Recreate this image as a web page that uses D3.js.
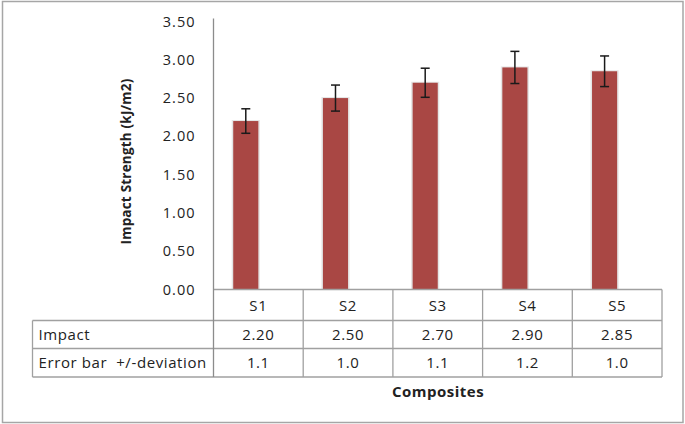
<!DOCTYPE html>
<html>
<head>
<meta charset="utf-8">
<script src="https://cdn.jsdelivr.net/npm/d3@7"></script>
<style>
  body { margin: 0; background: #fff; }
  text { font-family: "Open Sans", sans-serif; fill: #222; }
</style>
</head>
<body>
<script>
// chart data
var samples = ["S1", "S2", "S3", "S4", "S5"];
var impact = [2.20, 2.50, 2.70, 2.90, 2.85];
var deviation = ["1.1", "1.0", "1.1", "1.2", "1.0"];   // as printed in the table
var errDrawn = [0.16, 0.17, 0.19, 0.21, 0.20];          // half length of the drawn error bars
var yTicks = [0, 0.5, 1, 1.5, 2, 2.5, 3, 3.5];

var W = 685, H = 424;
var plotLeft = 213.5, plotRight = 662, plotTop = 21.5, plotBottom = 289.5;
var rowH = [31, 28, 28.5];

var svg = d3.select("body").append("svg")
    .attr("width", W)
    .attr("height", H);

// outer chart border
svg.append("rect")
    .attr("x", 2.5).attr("y", 1.5)
    .attr("width", 680.5).attr("height", 421)
    .attr("fill", "#fff")
    .attr("stroke", "#a6a6a6")
    .attr("stroke-width", 1.5);

var x = d3.scaleBand().domain(samples).range([plotLeft, plotRight]).padding(0);
var y = d3.scaleLinear().domain([0, 3.5]).range([plotBottom, plotTop]);

var barW = x.bandwidth() * 0.28;

// y axis tick labels
var yAxis = d3.axisLeft(y)
    .tickValues(yTicks)
    .tickSize(0)
    .tickPadding(18)
    .tickFormat(d3.format(".2f"));

var gy = svg.append("g")
    .attr("transform", "translate(" + plotLeft + ",0)")
    .call(yAxis);
gy.select(".domain").remove();
gy.selectAll("text")
    .style("font-family", "'Open Sans', sans-serif")
    .style("font-size", "14.5px")
    .style("letter-spacing", "1px")
    .attr("fill", "#333");

// y axis title
svg.append("text")
    .attr("transform", "translate(131,161.5) rotate(-90)")
    .attr("text-anchor", "middle")
    .style("font-size", "13.5px")
    .style("letter-spacing", "0.2px")
    .style("font-weight", "bold")
    .text("Impact Strength (kJ/m2)");

// bars, with a pale halo like the original
var bars = svg.append("g");
bars.selectAll("rect.halo")
    .data(impact)
    .enter().append("rect")
    .attr("class", "halo")
    .attr("x", function(d, i) { return x(samples[i]) + x.bandwidth() / 2 - barW - 1.5; })
    .attr("y", function(d) { return y(d) - 1; })
    .attr("width", barW + 3)
    .attr("height", function(d) { return plotBottom - y(d) + 1; })
    .attr("fill", "#e4e4e4");
bars.selectAll("rect.bar")
    .data(impact)
    .enter().append("rect")
    .attr("class", "bar")
    .attr("x", function(d, i) { return x(samples[i]) + x.bandwidth() / 2 - barW; })
    .attr("y", function(d) { return y(d); })
    .attr("width", barW)
    .attr("height", function(d) { return plotBottom - y(d); })
    .attr("fill", "#a94744");

// error bars
var err = svg.append("g")
    .attr("stroke", "#1a1a1a")
    .attr("stroke-width", 1.5);
impact.forEach(function(v, i) {
    var cx = x(samples[i]) + x.bandwidth() / 2 - barW / 2;
    var y1 = y(v + errDrawn[i]), y2 = y(v - errDrawn[i]);
    err.append("line").attr("x1", cx).attr("x2", cx).attr("y1", y1).attr("y2", y2);
    err.append("line").attr("x1", cx - 4.5).attr("x2", cx + 4.5).attr("y1", y1).attr("y2", y1);
    err.append("line").attr("x1", cx - 4.5).attr("x2", cx + 4.5).attr("y1", y2).attr("y2", y2);
});

// data table
var tableLeft = 32.5;
var r0 = plotBottom, r1 = r0 + rowH[0], r2 = r1 + rowH[1], r3 = r2 + rowH[2];
var grid = svg.append("g")
    .attr("stroke", "#a0a0a0")
    .attr("stroke-width", 1.3)
    .attr("fill", "none");

grid.append("line").attr("x1", plotLeft).attr("x2", plotRight).attr("y1", r0).attr("y2", r0);
[r1, r2, r3].forEach(function(ry) {
    grid.append("line").attr("x1", tableLeft).attr("x2", plotRight).attr("y1", ry).attr("y2", ry);
});
grid.append("line").attr("x1", tableLeft).attr("x2", tableLeft).attr("y1", r1).attr("y2", r3);
samples.forEach(function(s, i) {
    if (i === 0) return;
    grid.append("line").attr("x1", x(s)).attr("x2", x(s)).attr("y1", r0).attr("y2", r3);
});
grid.append("line").attr("x1", plotRight).attr("x2", plotRight).attr("y1", r0).attr("y2", r3);

// vertical axis line running down through the table
svg.append("line")
    .attr("x1", plotLeft).attr("x2", plotLeft)
    .attr("y1", 18.5).attr("y2", r3)
    .attr("stroke", "#8c8c8c")
    .attr("stroke-width", 1.3);

var cell = svg.append("g")
    .style("font-size", "15px")
    .style("letter-spacing", "0.6px");
samples.forEach(function(s, i) {
    var cx = x(s) + x.bandwidth() / 2;
    cell.append("text").attr("x", cx).attr("y", (r0 + r1) / 2 + 5.5)
        .attr("text-anchor", "middle").text(s);
    cell.append("text").attr("x", cx).attr("y", (r1 + r2) / 2 + 5.5)
        .attr("text-anchor", "middle").text(d3.format(".2f")(impact[i]));
    cell.append("text").attr("x", cx).attr("y", (r2 + r3) / 2 + 5.5)
        .attr("text-anchor", "middle").text(deviation[i]);
});
cell.append("text").attr("x", 38.5).attr("y", (r1 + r2) / 2 + 5.5).text("Impact");
cell.append("text").attr("x", 38.5).attr("y", (r2 + r3) / 2 + 5.5)
    .attr("xml:space", "preserve")
    .style("white-space", "pre")
    .text("Error bar  +/-deviation");

// x axis title
svg.append("text")
    .attr("x", 438).attr("y", 397)
    .attr("text-anchor", "middle")
    .style("font-size", "15px")
    .style("letter-spacing", "0.5px")
    .style("font-weight", "bold")
    .text("Composites");
</script>
</body>
</html>
